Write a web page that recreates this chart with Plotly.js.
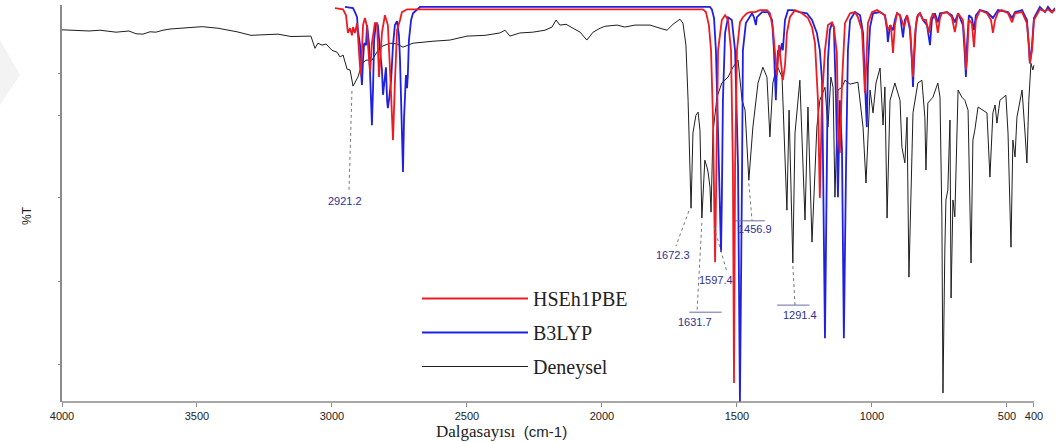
<!DOCTYPE html>
<html>
<head>
<meta charset="utf-8">
<script src="https://cdn.plot.ly/plotly-3.0.1.min.js"></script>
<style>html,body{margin:0;padding:0;background:#fff;}#chart{width:1056px;height:442px;}</style>
</head>
<body>
<div id="chart"></div>
<script>
// Experimental (Deneysel) spectrum: wavenumber (cm-1) and %T
const expWn = [4000,3952,3900,3859,3800,3752,3726,3700,3674,3652,3626,3600,3552,3481,3422,3352,3300,3252,3200,3152,
  3100,3078,3063,3052,3037,3022,3000,2981,2970,2959,2944,2933,2922,2911,2904,2889,2874,2852,2822,2785,
  2759,2737,2700,2626,2563,2500,2433,2378,2359,2341,2304,2256,2211,2185,2170,2156,2133,2107,2081,2056,
  2044,2033,2007,1989,1944,1915,1878,1822,1785,1759,1737,1711,1700,1689,1681,1674,1670,1663,1652,1644,
  1637,1630,1619,1611,1607,1600,1596,1589,1574,1556,1533,1515,1496,1481,1470,1456,1441,1422,1404,1389,
  1378,1367,1352,1333,1315,1307,1293,1285,1267,1248,1237,1222,1204,1193,1174,1163,1152,1144,1137,1126,
  1111,1100,1081,1052,1033,1022,1007,996,985,970,959,952,944,933,915,896,889,878,870,863,
  848,830,815,804,800,793,774,756,748,741,737,730,726,719,711,707,700,693,681,667,
  656,644,633,626,619,607,589,574,563,552,544,537,526,504,496,485,478,470,463,444,
  433,426,419,411,404,400];
const expT = [94.5,94.3,94.2,94.4,93.9,94.2,93.5,93.4,94.0,93.9,94.4,94.7,94.9,95.3,94.9,94.0,93.1,93.3,93.4,92.8,
  92.9,92.9,89.8,91.1,90.6,90.9,89.3,88.8,87.6,88.1,84.5,84.3,80.2,81.7,82.5,85.8,86.8,86.8,90.1,91.1,
  90.9,90.1,91.1,91.6,91.9,92.9,93.1,93.7,94.4,92.9,93.7,93.9,94.4,95.2,97.0,95.7,95.9,94.9,93.9,91.9,
  93.1,93.9,94.9,95.4,95.7,95.2,95.7,95.7,94.9,94.4,95.9,97.2,96.2,90.6,76.6,53.8,49.2,68.3,72.8,73.6,
  69.0,46.7,61.4,59.6,58.4,54.6,48.2,68.3,77.4,81.0,82.5,85.0,86.8,76.6,74.1,56.3,69.8,81.0,85.0,82.5,
  67.3,81.0,85.5,82.5,48.7,74.1,35.3,68.3,81.7,46.2,74.9,40.6,69.8,76.6,79.9,69.8,82.5,79.9,52.0,79.2,
  79.9,81.7,80.7,81.2,69.8,55.6,79.2,73.4,81.0,84.8,70.3,80.0,46.7,76.6,81.0,76.6,64.7,60.7,72.3,31.7,
  73.4,81.0,81.7,72.3,58.9,75.9,77.4,81.0,77.4,47.0,2.3,38.6,51.3,53.8,71.6,26.4,51.3,47.0,79.2,77.4,
  76.6,74.1,35.3,66.5,69.0,74.9,74.1,73.4,57.1,73.4,75.4,70.8,76.6,77.9,68.3,39.3,66.5,62.2,72.3,79.2,
  68.3,60.7,76.6,86.0,84.3,85.5];

// HSEh1PBE computed spectrum
const hseWn = [2989,2959,2948,2944,2941,2933,2926,2922,2915,2907,2904,2896,2893,2889,2885,2878,2870,2867,2859,2852,
  2841,2833,2830,2826,2819,2815,2804,2793,2785,2781,2774,2767,2759,2748,2741,2722,1626,1615,1604,1596,
  1589,1581,1574,1570,1556,1544,1533,1522,1515,1511,1507,1500,1489,1478,1463,1452,1433,1415,1389,1378,
  1367,1359,1352,1344,1337,1330,1322,1315,1304,1285,1259,1237,1222,1211,1200,1193,1185,1174,1163,1148,
  1141,1130,1126,1119,1111,1100,1081,1063,1052,1037,1033,1026,1019,1015,1000,981,963,952,941,930,
  922,915,907,896,881,870,859,848,841,833,822,811,800,789,781,774,763,756,748,741,
  722,704,693,681,663,656,652,648,641,630,622,615,600,574,559,552,544,533,519,496,
  481,470,444,426,419,415,407,400,378,359,348,333,322];
const hseT = [100.0,99.7,98.2,95.7,93.7,94.9,93.1,95.2,93.7,96.2,92.6,85.0,83.0,88.1,95.7,97.5,95.2,91.1,83.8,91.1,
  96.2,96.2,89.3,82.5,89.3,93.7,98.2,95.7,84.3,76.6,66.5,81.0,94.4,97.0,99.0,99.7,99.7,99.0,95.7,89.3,
  72.3,35.5,68.3,89.3,97.0,98.2,97.0,89.3,59.6,4.8,59.6,89.3,96.4,97.7,98.7,99.0,99.0,99.5,99.5,98.7,
  94.9,87.6,83.0,90.6,86.8,81.7,85.5,93.7,97.7,99.5,98.7,97.5,95.2,91.1,76.6,51.8,76.6,89.3,95.7,96.4,
  95.2,88.6,72.3,63.2,81.0,96.2,98.7,99.0,97.7,94.4,89.3,78.4,89.3,96.2,99.0,99.5,98.7,98.2,94.4,95.7,
  88.6,95.7,98.7,98.2,95.2,98.2,95.2,82.5,93.1,97.7,98.7,97.0,97.0,93.7,97.5,98.7,97.0,93.7,97.5,98.7,
  99.0,97.7,93.9,98.7,97.0,90.6,84.3,86.8,97.0,96.2,90.1,97.0,99.5,98.7,97.0,93.7,97.0,99.0,99.5,98.7,
  96.4,98.7,99.0,96.2,90.6,86.0,89.3,97.0,99.7,99.2,99.7,98.9,99.7];

// B3LYP computed spectrum
const b3Wn = [2952,2922,2915,2907,2904,2896,2893,2889,2885,2881,2874,2870,2863,2856,2852,2848,2844,2837,2830,2822,
  2815,2811,2807,2800,2796,2793,2789,2781,2774,2767,2759,2752,2748,2741,2737,2733,2730,2726,2722,2719,
  2715,2707,2700,2685,2674,1600,1593,1585,1578,1570,1563,1559,1556,1552,1544,1533,1519,1507,1496,1489,
  1481,1478,1467,1459,1444,1437,1430,1426,1407,1385,1370,1363,1356,1352,1348,1341,1333,1330,1322,1311,
  1293,1267,1241,1222,1204,1193,1185,1181,1174,1167,1163,1156,1148,1141,1133,1126,1119,1111,1104,1096,
  1089,1081,1063,1044,1033,1026,1019,1015,1007,996,970,952,944,941,933,922,915,907,896,885,
  878,870,859,852,848,844,837,830,822,811,796,785,778,767,756,748,722,704,693,681,
  663,656,652,648,641,630,622,615,600,574,552,533,496,481,470,444,426,419,415,407,
  400,378,359,348,333,322];
const b3T = [100.3,100.0,99.0,97.7,94.4,90.6,84.3,80.5,86.8,91.1,90.6,95.7,91.1,79.4,70.3,79.4,91.9,96.2,95.7,89.3,
  84.3,78.0,80.5,85.0,76.6,74.6,76.6,81.7,90.6,95.7,96.7,93.1,86.8,72.3,58.4,72.3,78.2,83.0,79.7,83.0,
  91.9,97.0,98.7,99.7,100.3,100.3,99.7,97.5,89.3,68.3,43.7,38.1,51.3,76.6,93.7,97.7,97.0,89.3,59.6,0.0,
  59.6,89.3,96.2,97.0,98.7,97.7,95.7,97.7,99.0,99.0,97.0,89.3,76.6,85.0,89.3,88.6,91.1,89.3,97.0,99.5,
  99.5,99.0,98.7,97.0,93.7,89.3,81.7,59.6,16.2,59.6,86.8,94.4,96.2,95.2,76.6,52.0,76.6,64.0,16.2,59.6,
  89.3,97.0,99.0,98.2,93.7,81.0,69.8,85.0,95.2,98.7,99.0,98.2,94.4,91.4,95.7,94.4,97.0,98.7,98.2,92.6,
  97.0,98.2,94.4,86.8,80.0,86.8,95.7,98.2,98.7,97.0,95.7,90.6,97.0,98.7,96.4,98.7,99.0,98.2,96.4,98.7,
  95.7,88.1,82.5,90.6,98.2,97.5,94.4,98.2,99.5,99.0,97.5,99.5,99.0,97.5,99.0,99.5,97.0,90.6,86.0,90.6,
  97.5,100.3,99.0,100.3,99.0,100.0];

const seriesNames = ['HSEh1PBE', 'B3LYP', 'Deneysel'];
const xTickVals = [4000, 3500, 3000, 2500, 2000, 1500, 1000, 500, 400];
const xTickText = ['4000', '3500', '3000', '2500', '2000', '1500', '1000', '500', '400'];
const peakLabels = ['2921.2', '1672.3', '1631.7', '1597.4', '1456.9', '1291.4'];

// label placement (wavenumber, %T) and leader line ends
const labelPos = [[2952, 51.0], [1737, 37.3], [1656, 20.3], [1578, 31.0], [1433, 43.9], [1267, 22.1]];
const leaders = [[[2926, 79.0], [2937, 53.5]], [[1678, 48.5], [1726, 39.6]], [[1630, 45.5], [1648, 22.8]],
                 [[1585, 44.5], [1537, 33.0]], [[1456, 55.5], [1444, 46.0]], [[1293, 34.5], [1285, 24.6]]];

const traces = [
  {x: expWn, y: expT, type: 'scatter', mode: 'lines', name: seriesNames[2], legendgroup: 'c', legendrank: 3,
   line: {color: '#1e1e1e', width: 1}},
  {x: b3Wn, y: b3T, type: 'scatter', mode: 'lines', name: seriesNames[1], legendgroup: 'b', legendrank: 2,
   line: {color: '#2020e0', width: 1.8}},
  {x: hseWn, y: hseT, type: 'scatter', mode: 'lines', name: seriesNames[0], legendgroup: 'a', legendrank: 1,
   line: {color: '#ec1c24', width: 1.8}}
];

const labelColor = '#2e3192';
const annotations = peakLabels.map((t, i) => ({
  x: labelPos[i][0], y: labelPos[i][1], xref: 'x', yref: 'y', text: t, showarrow: false,
  font: {family: 'Liberation Sans, Arial, sans-serif', size: 11, color: labelColor}
}));
annotations.push({
  x: (501 - 62) / 993, y: 0, xref: 'paper', yref: 'paper', yshift: -29, yanchor: 'middle', showarrow: false,
  text: 'Dalgasayısı&nbsp; <span style="font-family:Liberation Sans Narrow, Liberation Sans, Arial;font-size:15px">(cm-1)</span>',
  font: {family: 'Liberation Serif, Times New Roman, serif', size: 17, color: '#222'}
});
annotations.push({
  x: (18 - 62) / 993, y: (402 - 216) / 397, xref: 'paper', yref: 'paper', textangle: -90, showarrow: false,
  text: '%T', font: {family: 'Liberation Sans, Arial, sans-serif', size: 12, color: '#222'}
});

const shapes = leaders.map(l => ({
  type: 'line', xref: 'x', yref: 'y', x0: l[0][0], y0: l[0][1], x1: l[1][0], y1: l[1][1],
  line: {color: '#777', width: 1, dash: 'dot'}
}));
// overlines of boxed labels
[[1631.7 + 45, 1631.7 - 75, 22.8], [1456.9 + 50, 1456.9 - 60, 46.0], [1291.4 + 60, 1291.4 - 60, 24.6]].forEach(o => {
  shapes.push({type: 'line', xref: 'x', yref: 'y', x0: o[0], x1: o[1], y0: o[2], y1: o[2],
    line: {color: '#6a6aa8', width: 1}});
});
// bottom axis line (ends at 400 cm-1)
shapes.push({type: 'line', xref: 'x', yref: 'paper', x0: 4000, x1: 400, y0: 0, y1: 0,
  line: {color: '#8a8a8a', width: 1.6}});
// faint watermark edge
shapes.push({type: 'path', xref: 'paper', yref: 'paper',
  path: 'M ' + (-62/993) + ' ' + ((402-40)/397) + ' L ' + (-42/993) + ' ' + ((402-75)/397) + ' L ' + (-62/993) + ' ' + ((402-105)/397) + ' Z',
  fillcolor: 'rgba(235,235,235,0.6)', line: {width: 0}});

const layout = {
  width: 1056, height: 442,
  margin: {l: 62, r: 1, t: 5, b: 40},
  paper_bgcolor: '#fff', plot_bgcolor: '#fff',
  showlegend: true,
  legend: {x: (417 - 62) / 993, y: (402 - 279) / 397, xanchor: 'left', yanchor: 'top',
    font: {family: 'Liberation Serif, Times New Roman, serif', size: 20, color: '#222'},
    itemwidth: 106, tracegroupgap: 5, bgcolor: 'rgba(0,0,0,0)', traceorder: 'grouped'},
  xaxis: {range: [4000, 322], showgrid: false, zeroline: false, showline: false,
    tickvals: xTickVals, ticktext: xTickText, ticks: 'outside', ticklen: 4, tickcolor: '#8a8a8a',
    tickfont: {family: 'Liberation Sans Narrow, Liberation Sans, Arial', size: 11, color: '#222'}},
  yaxis: {range: [0, 100.8], showgrid: false, zeroline: false, showline: true, linecolor: '#8a8a8a', linewidth: 1.6,
    tickvals: [9.6, 30.7, 51.8, 72.8, 83.5], ticks: 'outside', ticklen: 2, tickcolor: '#8a8a8a', showticklabels: false},
  annotations: annotations,
  shapes: shapes
};

Plotly.newPlot('chart', traces, layout, {displayModeBar: false, staticPlot: true});
</script>
</body>
</html>
